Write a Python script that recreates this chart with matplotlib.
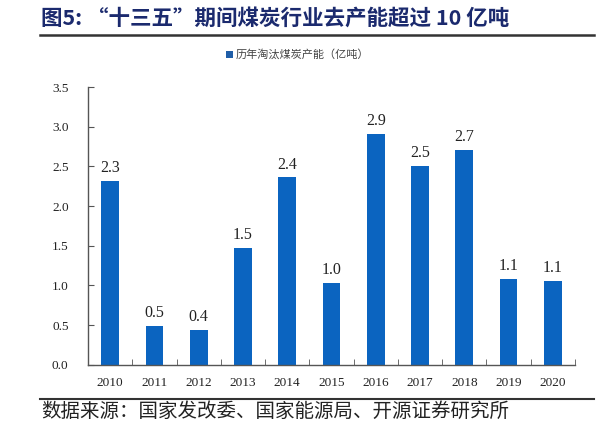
import matplotlib
matplotlib.use("Agg")
import matplotlib.pyplot as plt
from matplotlib.patches import Rectangle
from matplotlib.lines import Line2D
import numpy as np

years = ["2010", "2011", "2012", "2013", "2014", "2015", "2016", "2017", "2018", "2019", "2020"]
values = [2.32, 0.49, 0.44, 1.47, 2.36, 1.03, 2.91, 2.51, 2.71, 1.08, 1.06]
yticks = [0.0, 0.5, 1.0, 1.5, 2.0, 2.5, 3.0, 3.5]
title = "图5: “十三五”期间煤炭行业去产能超过 10 亿吨"
legend_label = "历年淘汰煤炭产能（亿吨）"
source = "数据来源：国家发改委、国家能源局、开源证券研究所"

CJK = ["Noto Sans CJK SC", "DejaVu Sans"]
SERIF = ["Liberation Serif", "DejaVu Serif"]
bar_color = "#0b64c0"

fig = plt.figure(figsize=(6, 4.22), dpi=100)
ax = fig.add_axes([0.1467, 0.1358, 0.8116, 0.658])
x = np.arange(len(years))
bars = ax.bar(x, values, width=0.4, color=bar_color)
for xi, v in zip(x, values):
    ax.text(xi, v + 0.06, f"{v:.1f}", ha="center", va="bottom", fontsize=11.5,
            family=SERIF, color="#222222")

ax.set_xlim(-0.5, len(years) - 0.5)
ax.set_ylim(0, 3.5)
ax.set_yticks(yticks)
ax.set_yticklabels([f"{t:.1f}" for t in yticks], family=SERIF, fontsize=9.5, color="#222222")
ax.set_xticks(x)
ax.set_xticklabels(years, family=SERIF, fontsize=9.5, color="#222222")
ax.set_xticks(np.arange(-0.5, len(years), 1.0), minor=True)
ax.tick_params(axis="x", which="major", length=0, pad=9)
ax.tick_params(axis="x", which="minor", direction="in", length=4, color="#555555")
ax.tick_params(axis="y", direction="in", length=4, color="#555555", pad=14)
for s in ["top", "right"]:
    ax.spines[s].set_visible(False)
for s in ["left", "bottom"]:
    ax.spines[s].set_color("#555555")
    ax.spines[s].set_linewidth(1.0)

# Title
fig.text(0.068, 0.957, title, family=CJK, fontsize=15.5, fontweight="bold",
         color="#1b2a6e", ha="left", va="center")
fig.add_artist(Line2D([0.067, 0.99], [0.918, 0.918], color="#333333", lw=1.8,
                      transform=fig.transFigure))

# Legend
fig.patches.append(Rectangle((0.377, 0.862), 0.011, 0.016, transform=fig.transFigure,
                             facecolor="#1f5ea8", edgecolor="none"))
fig.text(0.392, 0.870, legend_label, family=CJK, fontsize=8, color="#444444",
         ha="left", va="center")

# Source line and text
fig.add_artist(Line2D([0.067, 0.99], [0.0545, 0.0545], color="#333333", lw=1.5,
                      transform=fig.transFigure))
fig.text(0.068, 0.026, source, family=CJK, fontsize=14, color="#222222",
         ha="left", va="center")

fig.savefig("out.png", dpi=100, facecolor="white")
